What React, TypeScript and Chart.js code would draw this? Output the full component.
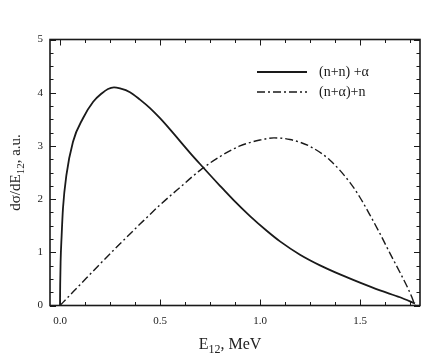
import React, { useEffect, useRef } from "react";
import { Chart, registerables } from "chart.js";

Chart.register(...registerables);

// ---- data ----
const seriesLabels = ["(n+n) +\u03b1", "(n+\u03b1)+n"];

const nnX = [0, 0.001, 0.003, 0.008, 0.015, 0.032, 0.065, 0.115, 0.166, 0.21, 0.24, 0.27, 0.3, 0.35, 0.4, 0.45, 0.5, 0.55, 0.65, 0.7, 0.8, 0.868, 0.95, 1.035, 1.1, 1.2, 1.3, 1.4, 1.5, 1.6, 1.7, 1.775];
const nnY = [0, 0.4, 0.82, 1.3, 1.83, 2.45, 3.08, 3.52, 3.83, 3.99, 4.07, 4.1, 4.08, 4.01, 3.87, 3.71, 3.52, 3.31, 2.87, 2.66, 2.25, 1.98, 1.68, 1.4, 1.205, 0.955, 0.755, 0.585, 0.43, 0.285, 0.155, 0.04];

const naX = [0, 0.1, 0.2, 0.3, 0.4, 0.5, 0.6, 0.7, 0.8, 0.9, 1.0, 1.07, 1.15, 1.25, 1.35, 1.45, 1.5, 1.55, 1.6, 1.65, 1.7, 1.74, 1.76, 1.775];
const naY = [0, 0.39, 0.78, 1.16, 1.53, 1.89, 2.22, 2.54, 2.8, 3.0, 3.11, 3.15, 3.12, 2.99, 2.73, 2.31, 2.03, 1.7, 1.35, 0.98, 0.62, 0.32, 0.15, 0];

const xMajorTicks = [0, 0.5, 1.0, 1.5];
const xMinorStep = 0.125;
const yMajorTicks = [0, 1, 2, 3, 4, 5];
const yMinorStep = 0.25;

const xTitleMain = "E";
const xTitleSub = "12";
const xTitleRest = ", MeV";
const yTitleMain = "d\u03c3/dE";
const yTitleSub = "12";
const yTitleRest = ", a.u.";

const SERIF = '"Liberation Serif", "Times New Roman", serif';
const INK = "#1a1a1a";

function drawSubText(ctx: CanvasRenderingContext2D, parts: [string, string, string], cx: number, cy: number, size: number) {
  const subSize = Math.round(size * 0.75);
  ctx.font = `${size}px ${SERIF}`;
  const w1 = ctx.measureText(parts[0]).width;
  const w3 = ctx.measureText(parts[2]).width;
  ctx.font = `${subSize}px ${SERIF}`;
  const w2 = ctx.measureText(parts[1]).width;
  let x = cx - (w1 + w2 + w3) / 2;
  ctx.textBaseline = "alphabetic";
  ctx.textAlign = "left";
  ctx.font = `${size}px ${SERIF}`;
  ctx.fillText(parts[0], x, cy);
  x += w1;
  ctx.font = `${subSize}px ${SERIF}`;
  ctx.fillText(parts[1], x, cy + size * 0.28);
  x += w2;
  ctx.font = `${size}px ${SERIF}`;
  ctx.fillText(parts[2], x, cy);
}

const decorPlugin = {
  id: "decor",
  afterDraw(chart: any) {
    const { ctx, chartArea } = chart;
    const xs = chart.scales.x;
    const ys = chart.scales.y;
    const { left, right, top, bottom } = chartArea;
    ctx.save();
    ctx.strokeStyle = INK;
    ctx.fillStyle = INK;

    // ticks on all four sides, pointing inward
    ctx.lineWidth = 1;
    const major = 6;
    const minor = 3.5;
    ctx.beginPath();
    for (let v = 0; v <= xs.max + 1e-9; v += xMinorStep) {
      const isMajor = xMajorTicks.some((m) => Math.abs(m - v) < 1e-6);
      const L = isMajor ? major : minor;
      const px = Math.round(xs.getPixelForValue(v)) + 0.5;
      ctx.moveTo(px, bottom);
      ctx.lineTo(px, bottom - L);
      ctx.moveTo(px, top);
      ctx.lineTo(px, top + L);
    }
    for (let v = ys.min; v <= ys.max + 1e-9; v += yMinorStep) {
      const isMajor = yMajorTicks.some((m) => Math.abs(m - v) < 1e-6);
      const L = isMajor ? major : minor;
      const py = Math.round(ys.getPixelForValue(v)) + 0.5;
      ctx.moveTo(left, py);
      ctx.lineTo(left + L, py);
      ctx.moveTo(right, py);
      ctx.lineTo(right - L, py);
    }
    ctx.stroke();

    // frame
    ctx.lineWidth = 1.6;
    ctx.strokeRect(left, top, right - left, bottom - top);

    // legend
    const lx0 = left + 207;
    const lx1 = left + 257;
    const ly = [top + 32.5, top + 52.5];
    const styles = chart.data.datasets;
    for (let i = 0; i < 2; i++) {
      ctx.beginPath();
      ctx.lineWidth = styles[i].borderWidth;
      ctx.setLineDash(styles[i].borderDash || []);
      ctx.moveTo(lx0, ly[i]);
      ctx.lineTo(lx1, ly[i]);
      ctx.stroke();
      ctx.setLineDash([]);
      ctx.font = `14px ${SERIF}`;
      ctx.textAlign = "left";
      ctx.textBaseline = "middle";
      ctx.fillText(seriesLabels[i], lx1 + 12, ly[i] + 0.5);
    }

    // axis titles with subscripts
    ctx.fillStyle = "#222";
    drawSubText(ctx, [xTitleMain, xTitleSub, xTitleRest], (left + right) / 2 - 5, bottom + 43, 16);
    ctx.save();
    ctx.translate(20, (top + bottom) / 2);
    ctx.rotate(-Math.PI / 2);
    drawSubText(ctx, [yTitleMain, yTitleSub, yTitleRest], 0, 0, 15);
    ctx.restore();

    ctx.restore();
  },
};

export default function App() {
  const ref = useRef<HTMLCanvasElement | null>(null);
  useEffect(() => {
    if (!ref.current) return;
    const chart = new Chart(ref.current, {
      type: "line",
      data: {
        datasets: [
          {
            label: seriesLabels[0],
            data: nnX.map((x, i) => ({ x, y: nnY[i] })),
            borderColor: INK,
            borderWidth: 1.8,
            pointRadius: 0,
            cubicInterpolationMode: "monotone",
            fill: false,
          },
          {
            label: seriesLabels[1],
            data: naX.map((x, i) => ({ x, y: naY[i] })),
            borderColor: INK,
            borderWidth: 1.4,
            borderDash: [8, 3, 2, 3],
            pointRadius: 0,
            cubicInterpolationMode: "monotone",
            fill: false,
          },
        ],
      },
      options: {
        animation: false,
        responsive: false,
        events: [],
        layout: { padding: { top: 39.5, right: 22, left: 0, bottom: 0 } },
        plugins: { legend: { display: false }, tooltip: { enabled: false } },
        scales: {
          x: {
            type: "linear",
            min: -0.05,
            max: 1.8,
            grid: { display: false, drawTicks: false },
            border: { display: false },
            afterBuildTicks: (s: any) => {
              s.ticks = xMajorTicks.map((v) => ({ value: v }));
            },
            afterFit: (s: any) => {
              s.height = 56.5;
            },
            ticks: {
              padding: 9,
              color: "#222",
              font: { family: SERIF, size: 11 },
              maxRotation: 0,
              callback: (v: any) => Number(v).toFixed(1),
            },
          },
          y: {
            type: "linear",
            min: 0,
            max: 5,
            grid: { display: false, drawTicks: false },
            border: { display: false },
            afterBuildTicks: (s: any) => {
              s.ticks = yMajorTicks.map((v) => ({ value: v }));
            },
            afterFit: (s: any) => {
              s.width = 50;
            },
            ticks: {
              padding: 7,
              color: "#222",
              font: { family: SERIF, size: 11 },
              callback: (v: any) => String(v),
            },
          },
        },
      },
      plugins: [decorPlugin],
    } as any);
    return () => chart.destroy();
  }, []);
  return (
    <div style={{ position: "fixed", left: 0, top: 0, width: 442, height: 362, background: "#fff" }}>
      <canvas ref={ref} width={442} height={362} style={{ width: 442, height: 362, display: "block" }} />
    </div>
  );
}
